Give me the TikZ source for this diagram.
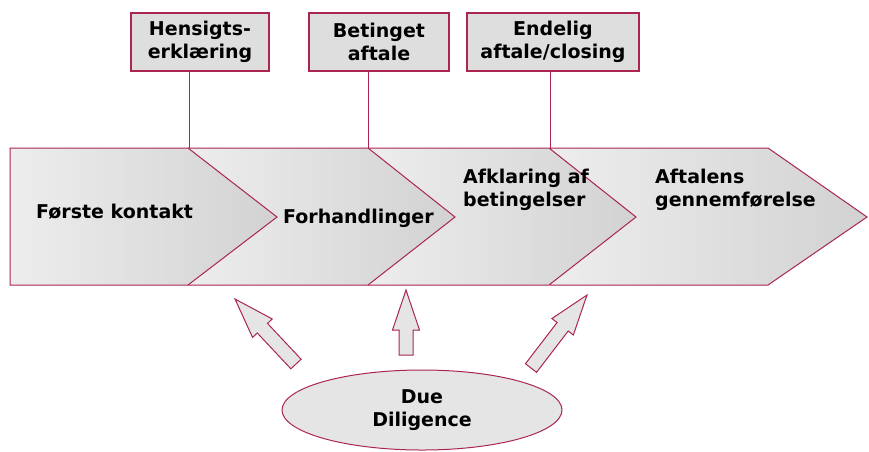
\documentclass[tikz,border=0pt]{standalone}
\usepackage{fontspec}
\setmainfont{DejaVu Sans}
\usepackage{tikz}
\usetikzlibrary{positioning}
\usetikzlibrary{calc}
\usetikzlibrary{shapes.geometric}
\definecolor{rim}{RGB}{170,38,78}
\definecolor{lightfill}{RGB}{237,237,237}
\definecolor{darkfill}{RGB}{210,210,210}
\definecolor{boxfill}{RGB}{222,222,222}
\definecolor{ovalfill}{RGB}{229,229,229}
\newcommand{\fatarrow}[2]{%
  \path[fat] let \p1=(#1), \p2=(#2),
    \n1={atan2(\y2-\y1,\x2-\x1)}, \n2={veclen(\x2-\x1,\y2-\y1)} in
    [shift={(\p1)}, rotate=\n1]
    (0pt,-7pt) -- (\n2*1pt-40pt,-7pt) -- (\n2*1pt-40pt,-13.5pt) -- (\n2*1pt,0pt)
    -- (\n2*1pt-40pt,13.5pt) -- (\n2*1pt-40pt,7pt) -- (0pt,7pt) -- cycle;}

\begin{document}
\begin{tikzpicture}[x=1pt, y=-1pt,
    font=\bfseries\fontsize{19}{23}\selectfont,
    phase/.style={draw=rim, line width=1pt, left color=lightfill, right color=darkfill},
    milestone/.style={draw=rim, line width=1.1pt, fill=boxfill, align=center,
        minimum height=58pt, inner sep=0pt},
    phasetext/.style={anchor=base west, align=left, inner sep=0pt},
    link/.style={draw=rim, line width=1pt},
    fat/.style={draw=rim, line width=1pt, fill=ovalfill, line join=miter} ]
    \useasboundingbox (0,0) rectangle (869,451);

    \path[phase] (550,148) -- (768,148) -- (867,217) -- (768,285) -- (550,285) -- cycle;
    \path[phase] (368,148) -- (549,148) -- (636,217) -- (549,285) -- (368,285) -- cycle;
    \path[phase] (188,148) -- (368,148) -- (455,217) -- (368,285) -- (188,285) -- cycle;
    \path[phase] (10,148) -- (188,148) -- (277,217) -- (188,285) -- (10,285) -- cycle;

    \node (first) [phasetext] at (36,218) {Første kontakt};
    \node (negotiate) [phasetext] at (283,223) {Forhandlinger};
    \node (clarify) [phasetext] at (463,206) {Afklaring af\\betingelser};
    \node (complete) [phasetext] at (655,206) {Aftalens\\gennemførelse};

    \node (intent) [milestone, minimum width=138pt] at (200,42) {Hensigts-\\erklæring};
    \node (conditional) [milestone, minimum width=140pt] at (379,42) {Betinget\\aftale};
    \node (closing) [milestone, minimum width=172pt] at (553,42) {Endelig\\aftale/closing};

    \coordinate (corner1) at (189,148);
    \coordinate (corner2) at (368,148);
    \coordinate (corner3) at (550,148);
    \draw[link] (corner1) -- (corner1 |- intent.south);
    \draw[link] (corner2) -- (corner2 |- conditional.south);
    \draw[link] (corner3) -- (corner3 |- closing.south);

    \node (dd) [ellipse, draw=rim, line width=1pt, fill=ovalfill, minimum width=280pt,
        minimum height=80pt, align=center] at (422,410) {Due\\Diligence};

    \coordinate (tailL) at (296,364);
    \coordinate (tipL) at (235,299);
    \coordinate (tailM) at (406,355);
    \coordinate (tipM) at (406,290);
    \coordinate (tailR) at (531,368);
    \coordinate (tipR) at (587,295);
    \fatarrow{tailL}{tipL}
    \fatarrow{tailM}{tipM}
    \fatarrow{tailR}{tipR}
\end{tikzpicture}
\end{document}
